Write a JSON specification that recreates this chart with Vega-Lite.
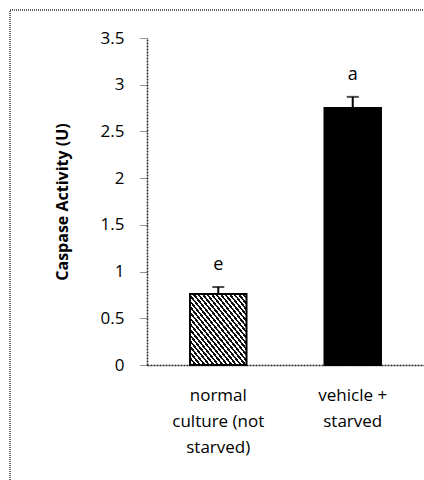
{
  "$schema": "https://vega.github.io/schema/vega-lite/v6.json",
  "width": 420,
  "height": 480,
  "autosize": {"type": "none"},
  "padding": {"left": 10, "top": 10, "right": 0, "bottom": 0},
  "background": "white",
  "config": {
    "view": {"stroke": "#333", "strokeDash": [1, 1], "strokeWidth": 1.5},
    "font": "Open Sans"
  },
  "data": {
    "values": [
      {"group": "normal culture (not starved)", "value": 0.76, "upper": 0.835, "sig": "e"},
      {"group": "vehicle + starved", "value": 2.75, "upper": 2.87, "sig": "a"}
    ]
  },
  "encoding": {
    "x": {
      "field": "group",
      "type": "nominal",
      "sort": null,
      "scale": {"range": [137, 414], "paddingInner": 0.58, "paddingOuter": 0.32},
      "axis": {
        "title": null,
        "orient": "bottom",
        "offset": -125,
        "labelAngle": 0,
        "ticks": false,
        "domainColor": "#222",
        "domainDash": [2, 1],
        "domainWidth": 1.5,
        "labelFont": "Open Sans",
        "labelFontSize": 17,
        "labelColor": "black",
        "labelPadding": 22,
        "labelBaseline": "top",
        "labelLineHeight": 26,
        "labelExpr": "datum.value == 'normal culture (not starved)' ? ['normal', 'culture (not', 'starved)'] : ['vehicle +', 'starved']"
      }
    }
  },
  "layer": [
    {
      "mark": {"type": "bar", "stroke": "black", "strokeWidth": 2},
      "encoding": {
        "y": {
          "field": "value",
          "type": "quantitative",
          "scale": {"domain": [0, 3.5], "range": [355, 28], "nice": false, "zero": false},
          "axis": {
            "title": "Caspase Activity (U)",
            "offset": -137,
            "values": [0, 0.5, 1, 1.5, 2, 2.5, 3, 3.5],
            "format": "",
            "grid": false,
            "domainColor": "#222",
            "domainDash": [2, 1],
            "domainWidth": 1.5,
            "tickColor": "#222",
            "tickSize": 7,
            "tickDash": [1, 1],
            "labelFont": "Open Sans",
            "labelFontSize": 17,
            "labelPadding": 16,
            "labelColor": "black",
            "titleFont": "Open Sans",
            "titleFontSize": 16,
            "titleFontWeight": "bold",
            "titleColor": "black",
            "titleX": -85,
            "titleY": 191.5,
            "titleAngle": 270,
            "titleAlign": "center",
            "titleBaseline": "middle"
          }
        },
        "fill": {
          "condition": {"test": "datum.group == 'vehicle + starved'", "value": "black"},
          "value": {
            "gradient": "linear", "x1": 0, "y1": 1, "x2": 1, "y2": 0,
            "stops": [
              {"offset": 0, "color": "#111"}, {"offset": 0.02, "color": "#111"}, {"offset": 0.02, "color": "#fff"}, {"offset": 0.04, "color": "#fff"},
              {"offset": 0.04, "color": "#111"}, {"offset": 0.06, "color": "#111"}, {"offset": 0.06, "color": "#fff"}, {"offset": 0.08, "color": "#fff"},
              {"offset": 0.08, "color": "#111"}, {"offset": 0.1, "color": "#111"}, {"offset": 0.1, "color": "#fff"}, {"offset": 0.12, "color": "#fff"},
              {"offset": 0.12, "color": "#111"}, {"offset": 0.14, "color": "#111"}, {"offset": 0.14, "color": "#fff"}, {"offset": 0.16, "color": "#fff"},
              {"offset": 0.16, "color": "#111"}, {"offset": 0.18, "color": "#111"}, {"offset": 0.18, "color": "#fff"}, {"offset": 0.2, "color": "#fff"},
              {"offset": 0.2, "color": "#111"}, {"offset": 0.22, "color": "#111"}, {"offset": 0.22, "color": "#fff"}, {"offset": 0.24, "color": "#fff"},
              {"offset": 0.24, "color": "#111"}, {"offset": 0.26, "color": "#111"}, {"offset": 0.26, "color": "#fff"}, {"offset": 0.28, "color": "#fff"},
              {"offset": 0.28, "color": "#111"}, {"offset": 0.3, "color": "#111"}, {"offset": 0.3, "color": "#fff"}, {"offset": 0.32, "color": "#fff"},
              {"offset": 0.32, "color": "#111"}, {"offset": 0.34, "color": "#111"}, {"offset": 0.34, "color": "#fff"}, {"offset": 0.36, "color": "#fff"},
              {"offset": 0.36, "color": "#111"}, {"offset": 0.38, "color": "#111"}, {"offset": 0.38, "color": "#fff"}, {"offset": 0.4, "color": "#fff"},
              {"offset": 0.4, "color": "#111"}, {"offset": 0.42, "color": "#111"}, {"offset": 0.42, "color": "#fff"}, {"offset": 0.44, "color": "#fff"},
              {"offset": 0.44, "color": "#111"}, {"offset": 0.46, "color": "#111"}, {"offset": 0.46, "color": "#fff"}, {"offset": 0.48, "color": "#fff"},
              {"offset": 0.48, "color": "#111"}, {"offset": 0.5, "color": "#111"}, {"offset": 0.5, "color": "#fff"}, {"offset": 0.52, "color": "#fff"},
              {"offset": 0.52, "color": "#111"}, {"offset": 0.54, "color": "#111"}, {"offset": 0.54, "color": "#fff"}, {"offset": 0.56, "color": "#fff"},
              {"offset": 0.56, "color": "#111"}, {"offset": 0.58, "color": "#111"}, {"offset": 0.58, "color": "#fff"}, {"offset": 0.6, "color": "#fff"},
              {"offset": 0.6, "color": "#111"}, {"offset": 0.62, "color": "#111"}, {"offset": 0.62, "color": "#fff"}, {"offset": 0.64, "color": "#fff"},
              {"offset": 0.64, "color": "#111"}, {"offset": 0.66, "color": "#111"}, {"offset": 0.66, "color": "#fff"}, {"offset": 0.68, "color": "#fff"},
              {"offset": 0.68, "color": "#111"}, {"offset": 0.7, "color": "#111"}, {"offset": 0.7, "color": "#fff"}, {"offset": 0.72, "color": "#fff"},
              {"offset": 0.72, "color": "#111"}, {"offset": 0.74, "color": "#111"}, {"offset": 0.74, "color": "#fff"}, {"offset": 0.76, "color": "#fff"},
              {"offset": 0.76, "color": "#111"}, {"offset": 0.78, "color": "#111"}, {"offset": 0.78, "color": "#fff"}, {"offset": 0.8, "color": "#fff"},
              {"offset": 0.8, "color": "#111"}, {"offset": 0.82, "color": "#111"}, {"offset": 0.82, "color": "#fff"}, {"offset": 0.84, "color": "#fff"},
              {"offset": 0.84, "color": "#111"}, {"offset": 0.86, "color": "#111"}, {"offset": 0.86, "color": "#fff"}, {"offset": 0.88, "color": "#fff"},
              {"offset": 0.88, "color": "#111"}, {"offset": 0.9, "color": "#111"}, {"offset": 0.9, "color": "#fff"}, {"offset": 0.92, "color": "#fff"},
              {"offset": 0.92, "color": "#111"}, {"offset": 0.94, "color": "#111"}, {"offset": 0.94, "color": "#fff"}, {"offset": 0.96, "color": "#fff"},
              {"offset": 0.96, "color": "#111"}, {"offset": 0.98, "color": "#111"}, {"offset": 0.98, "color": "#fff"}, {"offset": 1, "color": "#fff"}
            ]
          }
        }
      }
    },
    {
      "mark": {"type": "rule", "color": "black", "strokeWidth": 2},
      "encoding": {
        "y": {"field": "value", "type": "quantitative", "scale": {"domain": [0, 3.5], "range": [355, 28], "nice": false, "zero": false}},
        "y2": {"field": "upper"}
      }
    },
    {
      "mark": {"type": "tick", "orient": "horizontal", "size": 12, "thickness": 2, "color": "black"},
      "encoding": {
        "y": {"field": "upper", "type": "quantitative", "scale": {"domain": [0, 3.5], "range": [355, 28], "nice": false, "zero": false}}
      }
    },
    {
      "mark": {"type": "text", "baseline": "alphabetic", "dy": -17, "fontSize": 18, "font": "Open Sans", "color": "black"},
      "encoding": {
        "y": {"field": "upper", "type": "quantitative", "scale": {"domain": [0, 3.5], "range": [355, 28], "nice": false, "zero": false}},
        "text": {"field": "sig"}
      }
    }
  ]
}
